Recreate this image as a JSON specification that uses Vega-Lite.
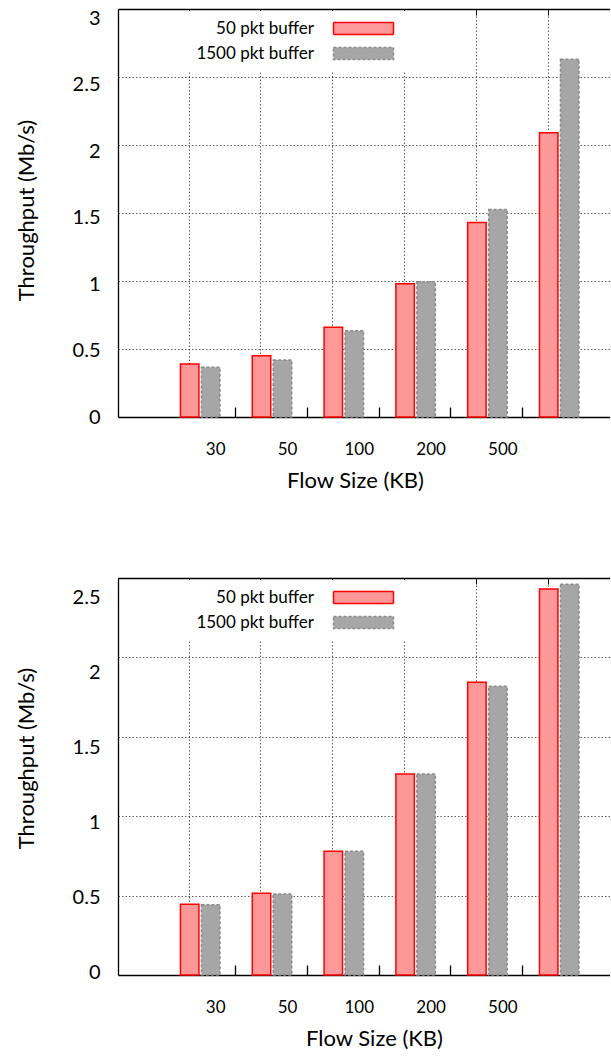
{
  "$schema": "https://vega.github.io/schema/vega-lite/v6.json",
  "padding": {"left": 15, "top": 8, "right": 0, "bottom": 4},
  "config": {
    "view": {"stroke": null},
    "font": "Lato",
    "axis": {"labelColor": "#000", "titleColor": "#000", "labelFont": "Lato", "titleFont": "Lato"}
  },
  "datasets": {
    "top": [
      {"size": "0-30", "buffer": "50 pkt buffer", "tput": 0.39},
      {"size": "0-30", "buffer": "1500 pkt buffer", "tput": 0.365},
      {"size": "30-50", "buffer": "50 pkt buffer", "tput": 0.45},
      {"size": "30-50", "buffer": "1500 pkt buffer", "tput": 0.42},
      {"size": "50-100", "buffer": "50 pkt buffer", "tput": 0.66},
      {"size": "50-100", "buffer": "1500 pkt buffer", "tput": 0.635},
      {"size": "100-200", "buffer": "50 pkt buffer", "tput": 0.98},
      {"size": "100-200", "buffer": "1500 pkt buffer", "tput": 0.995},
      {"size": "200-500", "buffer": "50 pkt buffer", "tput": 1.43},
      {"size": "200-500", "buffer": "1500 pkt buffer", "tput": 1.525},
      {"size": ">500", "buffer": "50 pkt buffer", "tput": 2.09},
      {"size": ">500", "buffer": "1500 pkt buffer", "tput": 2.63}
    ],
    "bottom": [
      {"size": "0-30", "buffer": "50 pkt buffer", "tput": 0.445},
      {"size": "0-30", "buffer": "1500 pkt buffer", "tput": 0.443},
      {"size": "30-50", "buffer": "50 pkt buffer", "tput": 0.515},
      {"size": "30-50", "buffer": "1500 pkt buffer", "tput": 0.51},
      {"size": "50-100", "buffer": "50 pkt buffer", "tput": 0.78},
      {"size": "50-100", "buffer": "1500 pkt buffer", "tput": 0.78},
      {"size": "100-200", "buffer": "50 pkt buffer", "tput": 1.265},
      {"size": "100-200", "buffer": "1500 pkt buffer", "tput": 1.265},
      {"size": "200-500", "buffer": "50 pkt buffer", "tput": 1.843},
      {"size": "200-500", "buffer": "1500 pkt buffer", "tput": 1.818},
      {"size": ">500", "buffer": "50 pkt buffer", "tput": 2.43},
      {"size": ">500", "buffer": "1500 pkt buffer", "tput": 2.46}
    ]
  },
  "bounds": "flush",
  "spacing": 161,
  "resolve": {
    "scale": {"fill": "independent", "stroke": "independent", "strokeDash": "independent"},
    "legend": {"fill": "independent", "stroke": "independent", "strokeDash": "independent"}
  },
  "vconcat": [
    {
      "width": 492,
      "height": 408,
      "data": {"name": "top"},
      "resolve": {"scale": {"y": "independent"}, "axis": {"x": "independent", "y": "independent"}},
      "layer": [
        {
          "mark": {"type": "bar", "strokeWidth": 1.5},
          "encoding": {
            "x": {
              "field": "size", "type": "nominal",
              "sort": ["0-30", "30-50", "50-100", "100-200", "200-500", ">500"],
              "scale": {"type": "band", "paddingInner": 0.45, "paddingOuter": 0.651, "align": 0.668},
              "axis": {"orient": "bottom", "bandPosition": 0.22, "grid": true, "gridColor": "#333", "gridDash": [1.5, 2], "gridWidth": 0.8, "domain": false, "ticks": false, "labels": false, "title": null}
            },
            "xOffset": {
              "field": "buffer", "type": "nominal",
              "sort": ["50 pkt buffer", "1500 pkt buffer"],
              "scale": {"paddingInner": 0.12, "paddingOuter": 0}
            },
            "y": {
              "field": "tput", "type": "quantitative",
              "scale": {"domain": [0, 3], "nice": false},
              "axis": {"orient": "left", "values": [0.5, 1, 1.5, 2, 2.5], "grid": true, "gridColor": "#333", "gridDash": [1.5, 2], "gridWidth": 0.8, "domain": true, "domainColor": "#000", "domainWidth": 1.3, "ticks": false, "labels": false, "title": null}
            },
            "fill": {
              "field": "buffer", "type": "nominal",
              "scale": {"domain": ["50 pkt buffer", "1500 pkt buffer"], "range": ["#ff9999", "#a6a6a6"]},
              "legend": {"title": null, "orient": "none", "legendX": 63, "legendY": 2, "direction": "vertical", "symbolType": "M22.5,-1H32.5V1H22.5Z", "symbolSize": 144, "symbolStrokeWidth": 1.5, "labelAlign": "right", "labelOffset": 107, "labelFont": "Lato", "labelFontSize": 17, "labelColor": "#000", "rowPadding": 6, "padding": 9, "fillColor": "white"}
            },
            "stroke": {
              "field": "buffer", "type": "nominal",
              "scale": {"domain": ["50 pkt buffer", "1500 pkt buffer"], "range": ["#ff0000", "#8a8a8a"]},
              "legend": {"title": null, "orient": "none", "legendX": 63, "legendY": 2, "direction": "vertical", "symbolType": "M22.5,-1H32.5V1H22.5Z", "symbolSize": 144, "symbolStrokeWidth": 1.5, "labelAlign": "right", "labelOffset": 107, "labelFont": "Lato", "labelFontSize": 17, "labelColor": "#000", "rowPadding": 6, "padding": 9, "fillColor": "white"}
            },
            "strokeDash": {
              "field": "buffer", "type": "nominal",
              "scale": {"domain": ["50 pkt buffer", "1500 pkt buffer"], "range": [[1, 0], [3, 2]]},
              "legend": {"title": null, "orient": "none", "legendX": 63, "legendY": 2, "direction": "vertical", "symbolType": "M22.5,-1H32.5V1H22.5Z", "symbolSize": 144, "symbolStrokeWidth": 1.5, "labelAlign": "right", "labelOffset": 107, "labelFont": "Lato", "labelFontSize": 17, "labelColor": "#000", "rowPadding": 6, "padding": 9, "fillColor": "white"}
            }
          }
        },
        {
          "mark": {"type": "point", "opacity": 0},
          "encoding": {
            "x": {
              "field": "size", "type": "nominal",
              "sort": ["0-30", "30-50", "50-100", "100-200", "200-500", ">500"],
              "axis": {"orient": "bottom", "values": ["0-30", "30-50", "50-100", "100-200", "200-500"], "bandPosition": 1, "tickOffset": 15, "labelExpr": "split(datum.value, '-')[1]", "grid": false, "domain": true, "domainColor": "#000", "domainWidth": 1.3, "ticks": true, "tickSize": -10, "tickColor": "#000", "tickWidth": 1.3, "labelFontSize": 17, "labelPadding": 34, "labelAngle": 0, "title": "Flow Size (KB)", "titleFontSize": 22, "titleFontWeight": "normal", "titlePadding": 13, "titleX": 237}
            },
            "y": {"field": "tput", "type": "quantitative", "axis": null}
          }
        },
        {
          "mark": {"type": "point", "opacity": 0},
          "encoding": {
            "x": {
              "field": "size", "type": "nominal",
              "sort": ["0-30", "30-50", "50-100", "100-200", "200-500", ">500"],
              "axis": {"orient": "top", "bandPosition": 0.22, "grid": false, "labels": false, "domain": true, "domainColor": "#000", "domainWidth": 1.3, "ticks": true, "tickSize": -6, "tickColor": "#000", "tickWidth": 1, "title": null}
            },
            "y": {"field": "tput", "type": "quantitative", "axis": null}
          }
        },
        {
          "mark": {"type": "point", "opacity": 0},
          "encoding": {
            "x": {
              "field": "size", "type": "nominal",
              "sort": ["0-30", "30-50", "50-100", "100-200", "200-500", ">500"],
              "axis": null
            },
            "y": {
              "field": "tput", "type": "quantitative",
              "scale": {"domain": [0, 3.068], "nice": false, "zero": false},
              "axis": {"orient": "left", "values": [0, 0.5, 1, 1.5, 2, 2.5, 3], "format": "~g", "grid": false, "domain": false, "ticks": false, "labelFontSize": 20, "labelPadding": 18, "title": "Throughput (Mb/s)", "titleFontSize": 22, "titleFontWeight": "normal", "titlePadding": 34, "titleY": 201}
            }
          }
        }
      ]
    },
    {
      "width": 492,
      "height": 397,
      "data": {"name": "bottom"},
      "resolve": {"scale": {"y": "independent"}, "axis": {"x": "independent", "y": "independent"}},
      "layer": [
        {
          "mark": {"type": "bar", "strokeWidth": 1.5},
          "encoding": {
            "x": {
              "field": "size", "type": "nominal",
              "sort": ["0-30", "30-50", "50-100", "100-200", "200-500", ">500"],
              "scale": {"type": "band", "paddingInner": 0.45, "paddingOuter": 0.651, "align": 0.668},
              "axis": {"orient": "bottom", "bandPosition": 0.22, "grid": true, "gridColor": "#333", "gridDash": [1.5, 2], "gridWidth": 0.8, "domain": false, "ticks": false, "labels": false, "title": null}
            },
            "xOffset": {
              "field": "buffer", "type": "nominal",
              "sort": ["50 pkt buffer", "1500 pkt buffer"],
              "scale": {"paddingInner": 0.12, "paddingOuter": 0}
            },
            "y": {
              "field": "tput", "type": "quantitative",
              "scale": {"domain": [0, 2.5], "nice": false},
              "axis": {"orient": "left", "values": [0.5, 1, 1.5, 2], "grid": true, "gridColor": "#333", "gridDash": [1.5, 2], "gridWidth": 0.8, "domain": true, "domainColor": "#000", "domainWidth": 1.3, "ticks": false, "labels": false, "title": null}
            },
            "fill": {
              "field": "buffer", "type": "nominal",
              "scale": {"domain": ["50 pkt buffer", "1500 pkt buffer"], "range": ["#ff9999", "#a6a6a6"]},
              "legend": {"title": null, "orient": "none", "legendX": 63, "legendY": 2, "direction": "vertical", "symbolType": "M22.5,-1H32.5V1H22.5Z", "symbolSize": 144, "symbolStrokeWidth": 1.5, "labelAlign": "right", "labelOffset": 107, "labelFont": "Lato", "labelFontSize": 17, "labelColor": "#000", "rowPadding": 6, "padding": 9, "fillColor": "white"}
            },
            "stroke": {
              "field": "buffer", "type": "nominal",
              "scale": {"domain": ["50 pkt buffer", "1500 pkt buffer"], "range": ["#ff0000", "#8a8a8a"]},
              "legend": {"title": null, "orient": "none", "legendX": 63, "legendY": 2, "direction": "vertical", "symbolType": "M22.5,-1H32.5V1H22.5Z", "symbolSize": 144, "symbolStrokeWidth": 1.5, "labelAlign": "right", "labelOffset": 107, "labelFont": "Lato", "labelFontSize": 17, "labelColor": "#000", "rowPadding": 6, "padding": 9, "fillColor": "white"}
            },
            "strokeDash": {
              "field": "buffer", "type": "nominal",
              "scale": {"domain": ["50 pkt buffer", "1500 pkt buffer"], "range": [[1, 0], [3, 2]]},
              "legend": {"title": null, "orient": "none", "legendX": 63, "legendY": 2, "direction": "vertical", "symbolType": "M22.5,-1H32.5V1H22.5Z", "symbolSize": 144, "symbolStrokeWidth": 1.5, "labelAlign": "right", "labelOffset": 107, "labelFont": "Lato", "labelFontSize": 17, "labelColor": "#000", "rowPadding": 6, "padding": 9, "fillColor": "white"}
            }
          }
        },
        {
          "mark": {"type": "point", "opacity": 0},
          "encoding": {
            "x": {
              "field": "size", "type": "nominal",
              "sort": ["0-30", "30-50", "50-100", "100-200", "200-500", ">500"],
              "axis": {"orient": "bottom", "values": ["0-30", "30-50", "50-100", "100-200", "200-500"], "bandPosition": 1, "tickOffset": 15, "labelExpr": "split(datum.value, '-')[1]", "grid": false, "domain": true, "domainColor": "#000", "domainWidth": 1.3, "ticks": true, "tickSize": -10, "tickColor": "#000", "tickWidth": 1.3, "labelFontSize": 17, "labelPadding": 34, "labelAngle": 0, "title": "Flow Size (KB)", "titleFontSize": 22, "titleFontWeight": "normal", "titlePadding": 13, "titleX": 256}
            },
            "y": {"field": "tput", "type": "quantitative", "axis": null}
          }
        },
        {
          "mark": {"type": "point", "opacity": 0},
          "encoding": {
            "x": {
              "field": "size", "type": "nominal",
              "sort": ["0-30", "30-50", "50-100", "100-200", "200-500", ">500"],
              "axis": {"orient": "top", "bandPosition": 0.22, "grid": false, "labels": false, "domain": true, "domainColor": "#000", "domainWidth": 1.3, "ticks": true, "tickSize": -6, "tickColor": "#000", "tickWidth": 1, "title": null}
            },
            "y": {"field": "tput", "type": "quantitative", "axis": null}
          }
        },
        {
          "mark": {"type": "point", "opacity": 0},
          "encoding": {
            "x": {
              "field": "size", "type": "nominal",
              "sort": ["0-30", "30-50", "50-100", "100-200", "200-500", ">500"],
              "axis": null
            },
            "y": {
              "field": "tput", "type": "quantitative",
              "scale": {"domain": [-0.0193, 2.6273], "nice": false, "zero": false},
              "axis": {"orient": "left", "values": [0, 0.5, 1, 1.5, 2, 2.5], "format": "~g", "grid": false, "domain": false, "ticks": false, "labelFontSize": 20, "labelPadding": 18, "title": "Throughput (Mb/s)", "titleFontSize": 22, "titleFontWeight": "normal", "titlePadding": 34, "titleY": 180}
            }
          }
        }
      ]
    }
  ]
}
